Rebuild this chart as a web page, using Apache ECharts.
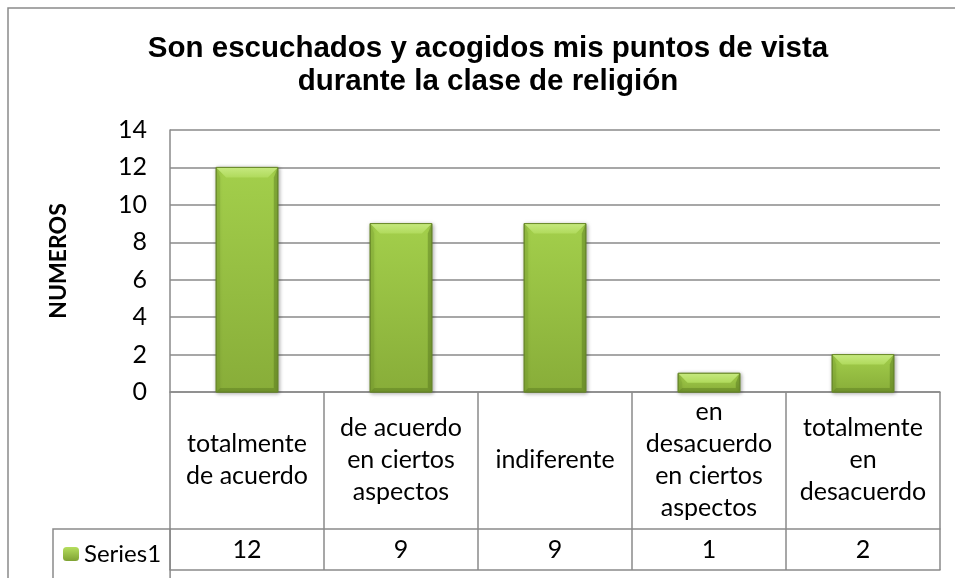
<!DOCTYPE html>
<html>
<head>
<meta charset="utf-8">
<script src="https://cdn.jsdelivr.net/npm/echarts@6/dist/echarts.min.js"></script>
<style>
  html, body { margin: 0; padding: 0; background: #fff; }
  #chart { width: 955px; height: 578px; }
</style>
</head>
<body>
<div id="chart"></div>
<script>
// Chart data
var categories = [
  'totalmente\nde acuerdo',
  'de acuerdo\nen ciertos\naspectos',
  'indiferente',
  'en\ndesacuerdo\nen ciertos\naspectos',
  'totalmente\nen\ndesacuerdo'
];
var series1 = [12, 9, 9, 1, 2];
var yTicks = [0, 2, 4, 6, 8, 10, 12, 14];

var gray = '#8a8a8a';
var font = 'Lato, "Open Sans", sans-serif';

var chartDom = document.getElementById('chart');
var myChart = echarts.init(chartDom);
var option;

// Bevelled bar, drawn from the axes
function renderBar(params, api) {
  var top = api.coord([api.value(0), api.value(1)]);
  var base = api.coord([api.value(0), 0]);
  var w = api.size([1, 0])[0] * 0.4;
  var x0 = top[0] - w / 2, y0 = top[1], h = base[1] - top[1];
  var b = Math.min(10, h / 2);
  var bs = Math.min(4, h / 4);
  return {
    type: 'group',
    children: [
      {
        type: 'rect',
        shape: { x: x0, y: y0, width: w, height: h },
        style: {
          fill: new echarts.graphic.LinearGradient(0, 0, 0, 1, [
            { offset: 0, color: '#a3cf4b' },
            { offset: 1, color: '#88ad39' }
          ]),
          stroke: '#6a8a2b',
          lineWidth: 1,
          shadowBlur: 4,
          shadowOffsetX: 1,
          shadowOffsetY: 1,
          shadowColor: 'rgba(0,0,0,0.35)'
        }
      },
      {
        type: 'polygon',
        shape: { points: [[x0, y0], [x0 + w, y0], [x0 + w - b, y0 + b], [x0 + b, y0 + b]] },
        style: {
          fill: new echarts.graphic.LinearGradient(0, 0, 0, 1, [
            { offset: 0, color: '#c6e97f' },
            { offset: 1, color: '#b0da5c' }
          ])
        }
      },
      {
        type: 'polygon',
        shape: { points: [[x0, y0], [x0 + bs, y0 + b], [x0 + bs, y0 + h - bs], [x0, y0 + h]] },
        style: { fill: 'rgba(110,150,40,0.25)' }
      },
      {
        type: 'polygon',
        shape: { points: [[x0 + w, y0], [x0 + w - bs, y0 + b], [x0 + w - bs, y0 + h - bs], [x0 + w, y0 + h]] },
        style: { fill: 'rgba(70,100,20,0.35)' }
      },
      {
        type: 'polygon',
        shape: { points: [[x0, y0 + h], [x0 + bs, y0 + h - bs], [x0 + w - bs, y0 + h - bs], [x0 + w, y0 + h]] },
        style: { fill: 'rgba(70,100,20,0.3)' }
      },
      {
        type: 'rect',
        shape: { x: x0, y: y0, width: w, height: h },
        style: { fill: 'none', stroke: '#6a8a2b', lineWidth: 1 }
      }
    ]
  };
}

option = {
  animation: false,
  title: {
    text: 'Son escuchados y acogidos mis puntos de vista\ndurante la clase de religión',
    left: 483,
    top: 27,
    textAlign: 'center',
    textStyle: {
      fontFamily: '"Liberation Sans", Arial, sans-serif',
      fontWeight: 'bold',
      fontSize: 29.5,
      lineHeight: 33,
      color: '#000'
    }
  },
  graphic: [
    {
      type: 'rect',
      shape: { x: 8, y: 8, width: 1000, height: 1000 },
      style: { fill: 'none', stroke: gray, lineWidth: 1.5 },
      silent: true
    }
  ],
  legend: {
    data: ['Series1'],
    left: 53,
    top: 529,
    itemWidth: 16,
    itemHeight: 14,
    padding: [13, 9, 13, 10],
    borderColor: gray,
    borderWidth: 1.5,
    textStyle: { fontFamily: font, fontSize: 24, color: '#000' }
  },
  grid: {
    left: 170,
    right: 15,
    top: 130,
    bottom: 186
  },
  xAxis: [
    {
      type: 'category',
      data: categories,
      axisLine: { lineStyle: { color: gray, width: 1.5 } },
      axisTick: { show: true, interval: 0, length: 178, lineStyle: { color: gray, width: 1.5 } },
      axisLabel: {
        interval: 0,
        margin: 68,
        verticalAlign: 'middle',
        fontFamily: font,
        fontSize: 25,
        lineHeight: 32,
        color: '#000'
      }
    },
    {
      type: 'category',
      data: categories,
      position: 'bottom',
      offset: 137,
      axisLine: { lineStyle: { color: gray, width: 1.5 } },
      axisTick: { show: false },
      axisLabel: {
        interval: 0,
        margin: 21,
        verticalAlign: 'middle',
        fontFamily: font,
        fontSize: 25,
        color: '#000',
        formatter: function (v, i) { return String(series1[i]); }
      }
    },
    {
      type: 'category',
      data: categories,
      position: 'bottom',
      offset: 178,
      axisLine: { lineStyle: { color: gray, width: 1.5 } },
      axisTick: { show: false },
      axisLabel: { show: false }
    }
  ],
  yAxis: {
    type: 'value',
    min: yTicks[0],
    max: yTicks[yTicks.length - 1],
    interval: yTicks[1] - yTicks[0],
    name: 'NUMEROS',
    nameLocation: 'middle',
    nameRotate: 90,
    nameGap: 100,
    nameTextStyle: { fontFamily: font, fontSize: 23, fontWeight: 'bold', color: '#000' },
    axisLine: { show: true, lineStyle: { color: gray, width: 1.5 } },
    axisTick: { show: false },
    axisLabel: { margin: 23, fontFamily: font, fontSize: 25, color: '#000' },
    splitLine: { lineStyle: { color: gray, width: 1.5 } }
  },
  series: [
    {
      name: 'Series1',
      type: 'custom',
      renderItem: renderBar,
      itemStyle: {
        color: new echarts.graphic.LinearGradient(0, 0, 0, 1, [
          { offset: 0, color: '#b5de5e' },
          { offset: 1, color: '#7fa233' }
        ])
      },
      encode: { x: 0, y: 1 },
      data: series1.map(function (v, i) { return [i, v]; })
    }
  ]
};

option && myChart.setOption(option);
</script>
</body>
</html>
